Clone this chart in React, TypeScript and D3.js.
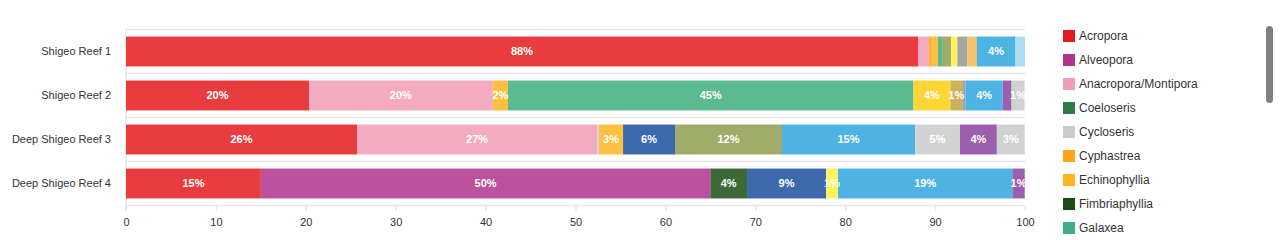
import React, { useEffect, useRef } from 'react';
import * as d3 from 'd3';

const sites = ['Shigeo Reef 1', 'Shigeo Reef 2', 'Deep Shigeo Reef 3', 'Deep Shigeo Reef 4'];

const genera = [
  'Acropora', 'Alveopora', 'Anacropora/Montipora', 'Coeloseris', 'Cycloseris', 'Cyphastrea',
  'Echinophyllia', 'Fimbriaphyllia', 'Galaxea', 'Goniastrea', 'Goniopora', 'Hydnophora',
  'Leptastrea', 'Lobophyllia', 'Merulina', 'Pavona', 'Porites', 'Psammocora', 'Seriatopora',
  'Turbinaria', 'Others',
];

const generaColors = [
  '#e41a1c', '#b0338c', '#f09cb4', '#2e7d46', '#cccccc', '#ffa41b',
  '#ffb41e', '#1b4d14', '#3daf7e', '#1b509f', '#8f9e50', '#fdce12',
  '#fff042', '#c1a73d', '#959595', '#f3b951', '#2da6de', '#cbcbcb', '#8a43a0',
  '#c9c9c9', '#9bd6f0',
];

// percent cover per genus, same order as `genera`
const reef1 = [88.1, 0, 1.15, 0, 0, 0.45, 0.63, 0, 0.45, 0, 1.0, 0, 0.7, 0, 1.1, 1.05, 4.3, 0, 0, 0, 1.1];
const reef2 = [20.36, 0, 20.43, 0, 0, 0, 1.7, 0, 45.1, 0, 0, 4.12, 0, 1.3, 0.37, 0, 4.15, 0, 0.97, 1.45, 0];
const reef3 = [25.7, 0, 26.7, 0, 0.22, 0, 2.67, 0, 0, 5.78, 11.9, 0, 0, 0, 0, 0, 14.8, 5.0, 4.1, 3.1, 0];
const reef4 = [15.0, 50.0, 0, 0, 0, 0, 0, 4.08, 0, 8.79, 0, 0, 1.33, 0, 0, 0, 19.4, 0, 1.37, 0, 0];

const siteValues = [reef1, reef2, reef3, reef4];
const xTicks = [0, 10, 20, 30, 40, 50, 60, 70, 80, 90, 100];

const FONT = '"Liberation Sans", Arial, Helvetica, sans-serif';

const App: React.FC = () => {
  const svgRef = useRef<SVGSVGElement | null>(null);

  useEffect(() => {
    const svgEl = svgRef.current;
    if (!svgEl) return;
    const width = 1280;
    const height = 240;

    const svg = d3.select(svgEl).attr('width', width).attr('height', height);
    svg.selectAll('*').remove();

    const x = d3.scaleLinear().domain([0, 100]).range([126, 1025]);
    const y = d3.scaleBand<string>().domain(sites).range([29.5, 205.5]).paddingInner(0.32).paddingOuter(0.16);
    const color = d3.scaleOrdinal<string, string>().domain(genera).range(generaColors);

    // band lines
    const grid = svg.append('g');
    const bandEdges = sites.map((s) => (y(s) as number) - (y.step() * y.paddingInner()) / 2);
    bandEdges.push(205.5);
    grid.selectAll('line.band')
      .data(bandEdges)
      .join('line')
      .attr('x1', 126).attr('x2', 1025)
      .attr('y1', (d) => d).attr('y2', (d) => d)
      .attr('stroke', '#e6e6e6').attr('stroke-width', 1.5);
    grid.append('line')
      .attr('x1', 126).attr('x2', 126).attr('y1', 29.5).attr('y2', 211)
      .attr('stroke', '#e6e6e6').attr('stroke-width', 1.5);

    // x axis
    const xAxis = svg.append('g').attr('transform', 'translate(0,205.5)')
      .call(d3.axisBottom(x).tickValues(xTicks).tickSize(5).tickSizeOuter(0).tickPadding(8));
    xAxis.select('.domain').remove();
    xAxis.selectAll('line').attr('stroke', '#e6e6e6').attr('stroke-width', 1.5);
    xAxis.selectAll('text').attr('fill', '#333').attr('font-size', 11).attr('font-family', FONT);

    // y labels
    svg.append('g').selectAll('text')
      .data(sites)
      .join('text')
      .attr('x', 111)
      .attr('y', (d) => (y(d) as number) + y.bandwidth() / 2)
      .attr('dy', '0.35em')
      .attr('text-anchor', 'end')
      .attr('fill', '#333')
      .attr('font-size', 11)
      .attr('font-family', FONT)
      .text((d) => d);

    // stacked segments
    type Seg = { site: string; genus: string; v: number; x0: number; x1: number };
    const segs: Seg[] = [];
    sites.forEach((site, i) => {
      let acc = 0;
      siteValues[i].forEach((v, j) => {
        if (v > 0) segs.push({ site, genus: genera[j], v, x0: acc, x1: acc + v });
        acc += v;
      });
    });

    const bars = svg.append('g');
    bars.selectAll('rect')
      .data(segs)
      .join('rect')
      .attr('x', (d) => x(d.x0))
      .attr('y', (d) => y(d.site) as number)
      .attr('width', (d) => Math.max(0, x(Math.min(100, d.x1)) - x(d.x0)))
      .attr('height', y.bandwidth())
      .attr('fill', (d) => color(d.genus))
      .attr('fill-opacity', 0.85);

    bars.selectAll('text')
      .data(segs.filter((d) => d.v >= 1.2))
      .join('text')
      .attr('x', (d) => x((d.x0 + Math.min(100, d.x1)) / 2))
      .attr('y', (d) => (y(d.site) as number) + y.bandwidth() / 2)
      .attr('dy', '0.36em')
      .attr('text-anchor', 'middle')
      .attr('fill', '#fff')
      .attr('font-weight', 'bold')
      .attr('font-size', 11)
      .attr('font-family', FONT)
      .text((d) => `${Math.round(d.v)}%`);

    // legend: a scrolled list, only the entries in view are drawn
    const legendTop = 36;
    const legendStep = 24;
    const shown = genera.filter((_, i) => legendTop + i * legendStep + 8 <= height);
    const legend = svg.append('g');
    const item = legend.selectAll('g')
      .data(shown)
      .join('g')
      .attr('transform', (_, i) => `translate(1063,${legendTop + i * legendStep})`);
    item.append('rect')
      .attr('x', 0).attr('y', -6).attr('width', 12).attr('height', 12)
      .attr('fill', (d) => color(d));
    item.append('text')
      .attr('x', 16).attr('y', 0).attr('dy', '0.35em')
      .attr('fill', '#333').attr('font-size', 12).attr('font-family', FONT)
      .text((d) => d);

    // scrollbar thumb
    svg.append('rect')
      .attr('x', 1266).attr('y', 26).attr('width', 7).attr('height', 77).attr('rx', 3.5)
      .attr('fill', '#7f7f7f');
  }, []);

  return (
    <div style={{ position: 'absolute', left: 0, top: 0, width: 1280, height: 240, overflow: 'hidden' }}>
      <svg ref={svgRef} style={{ display: 'block' }} />
    </div>
  );
};

export default App;
